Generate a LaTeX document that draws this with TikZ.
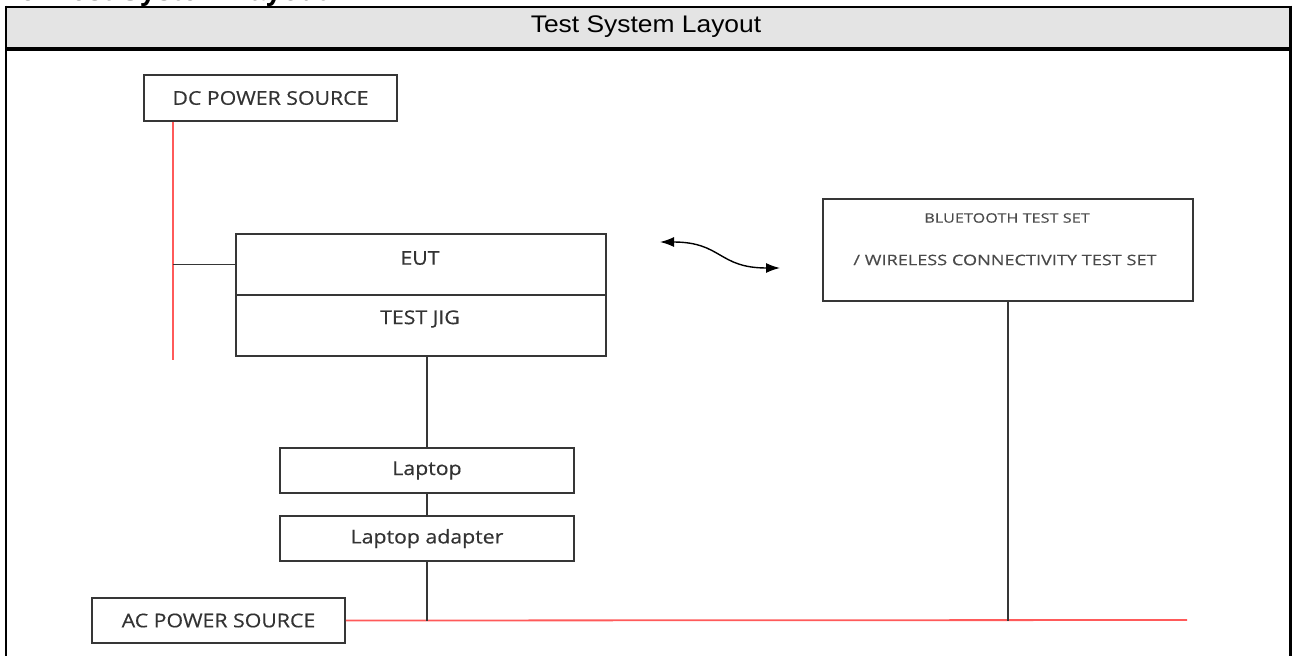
\documentclass[tikz,border=0pt]{standalone}
\usepackage{fontspec}
\usetikzlibrary{arrows.meta}
\newfontfamily\boxfont[FakeStretch=1.12,FakeBold=0.4]{Open Sans}
\newfontfamily\btfont[FakeStretch=1.25,FakeBold=0.3]{Open Sans}
\newfontfamily\arialfont{Liberation Sans}
\newfontfamily\titlefont[FakeStretch=1.1]{Liberation Sans}
\definecolor{headgray}{HTML}{E4E4E4}
\definecolor{inkgray}{HTML}{363636}
\definecolor{textgray}{HTML}{333333}
\definecolor{lightink}{HTML}{4A4A4A}
\definecolor{powerred}{HTML}{FF5A5A}

\begin{document}
\begin{tikzpicture}[x=1pt,y=-1pt,
  unit/.style={draw=inkgray, line width=1.7pt, rectangle, inner sep=0pt,
    text=textgray, font=\boxfont\fontsize{19}{21}\selectfont},
  boxlabel/.style={inner sep=0pt, text=textgray, font=\boxfont\fontsize{19}{21}\selectfont},
  bttext/.style={inner sep=0pt, text=lightink},
  wire/.style={draw=inkgray, line width=1.4pt},
  power/.style={draw=powerred, line width=1.8pt},
  radio/.style={draw=black, line width=1.4pt,
    {Latex[length=14pt,width=10pt]}-{Latex[length=14pt,width=10pt]}},
  frame/.style={draw=black}
]
\useasboundingbox (0,0) rectangle (1293,656);

% table frame and header row
\fill[headgray] (6,7) rectangle (1290,47);
\draw[frame, line width=2pt] (5,6.5) -- (1291.5,6.5);
\draw[frame, line width=4pt] (5,49) -- (1291.5,49);
\draw[frame, line width=2.5pt] (6,5.5) -- (6,656);
\draw[frame, line width=3pt] (1290.5,5.5) -- (1290.5,656);
\node[inner sep=0pt, font=\titlefont\fontsize{24}{26}\selectfont] (title) at (646,27) {Test System Layout};
\node[anchor=base west, inner sep=0pt, font=\arialfont\bfseries\fontsize{29}{30}\selectfont] (heading) at (20,0.5) {5. Test System Layout};

% equipment
\node[unit, minimum width=253, minimum height=46] (dc) at (270.5,98) {DC POWER SOURCE};
\node[unit, minimum width=370, minimum height=61] (eut) at (421,264.5) {};
\node[unit, minimum width=370, minimum height=61] (jig) at (421,325.5) {};
\node[boxlabel] (eutlabel) at (420,258) {EUT};
\node[boxlabel] (jiglabel) at (420,319) {TEST JIG};
\node[unit, minimum width=294, minimum height=45] (laptop) at (427,470.5) {Laptop};
\node[unit, minimum width=294, minimum height=45] (adapter) at (427,538.5) {Laptop adapter};
\node[unit, minimum width=253, minimum height=45] (ac) at (218.5,620.5) {AC POWER SOURCE};
\node[unit, minimum width=370, minimum height=102] (bt) at (1008,250) {};
\node[bttext, font=\btfont\fontsize{13}{15}\selectfont] (bt1) at (1007,218) {BLUETOOTH TEST SET};
\node[bttext, font=\btfont\fontsize{14.5}{16}\selectfont] (bt2) at (1005,260) {/ WIRELESS CONNECTIVITY TEST SET};

% free ends of the supply lines and the radio link
\coordinate (dcend) at (173,360);
\coordinate (acend) at (1187,620);
\coordinate (w1) at (660,242);
\coordinate (w2) at (780,268);

% DC supply to the EUT
\draw[power] (dcend |- dc.south) -- (dcend);
\draw[wire] (eut.west) -- (eut.west -| dcend);

% cabling
\draw[wire] (laptop.north) -- (laptop.north |- jig.south);
\draw[wire] (laptop.south) -- (adapter.north);
\draw[power] (ac.east) -- (acend);
\draw[wire] (adapter.south) -- (adapter.south |- ac.east);
\draw[wire] (bt.south) -- (bt.south |- ac.east);

% radio link
\draw[radio] (w1) .. controls (722,242) and (718,268) .. (w2);
\end{tikzpicture}
\end{document}
